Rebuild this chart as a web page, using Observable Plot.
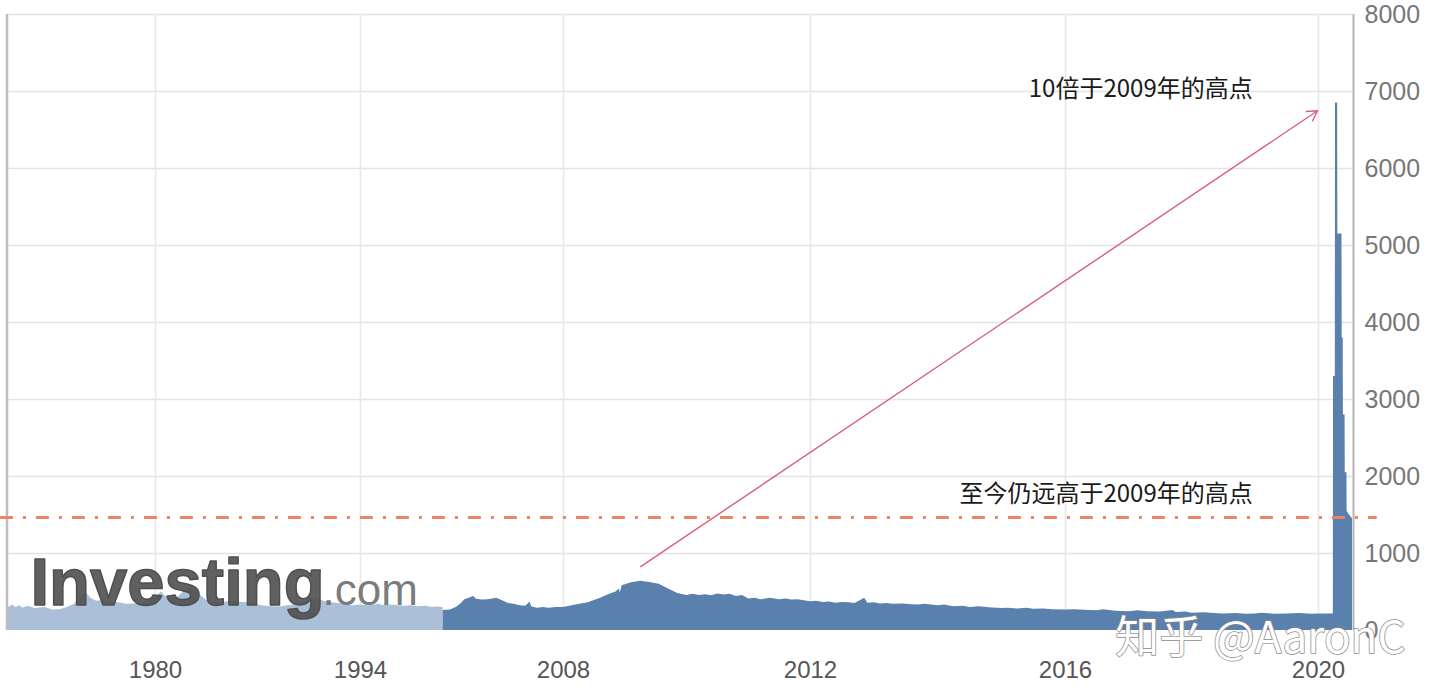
<!DOCTYPE html>
<html><head><meta charset="utf-8">
<script src="https://cdn.jsdelivr.net/npm/d3@7"></script>
<script src="https://cdn.jsdelivr.net/npm/@observablehq/plot@0.6"></script>
<style>html,body{margin:0;padding:0;background:#fff;overflow:hidden}</style>
</head><body><div id="chart"></div>
<script>
// Weekly initial jobless claims (thousands)
const lightYears = [1970.0,1970.3,1970.5,1970.8,1971.0,1971.3,1971.5,1971.8,1972.0,1972.5,1973.0,1973.5,1974.0,1974.5,1975.0,1975.3,1975.6,1976.0,1976.5,1977.0,1977.5,1978.0,1978.5,1979.0,1979.5,1980.0,1980.4,1980.8,1981.2,1981.6,1982.0,1982.5,1983.0,1983.5,1984.0,1984.5,1985.0,1985.5,1986.0,1986.5,1987.0,1987.5,1988.0,1988.5,1989.0,1989.5,1990.0,1990.5,1991.0,1991.5,1992.0,1992.5,1993.0,1993.5,1994.0,1994.5,1995.0,1995.3,1995.5,1996.0,1996.5,1997.0,1997.5,1998.0,1998.5,1999.0,1999.3,1999.7];
const lightValues = [300,330,300,320,290,315,305,285,290,300,265,270,300,340,450,490,420,380,390,370,360,340,345,350,370,430,500,420,420,440,520,560,470,390,360,355,380,370,365,360,330,315,310,305,320,330,360,380,420,380,360,350,330,320,330,320,330,345,325,330,325,315,320,310,315,300,310,295];
const darkYears = [1999.7,2000.2,2000.6,2000.9,2001.2,2001.5,2001.8,2002.0,2002.4,2002.8,2003.1,2003.4,2003.8,2004.2,2004.6,2005.0,2005.4,2005.7,2005.8,2006.2,2006.6,2007.0,2007.5,2008.0,2008.2,2008.4,2008.6,2008.75,2008.85,2008.9,2008.92,2008.95,2009.1,2009.25,2009.4,2009.55,2009.7,2009.85,2010.0,2010.1,2010.2,2010.3,2010.4,2010.5,2010.6,2010.7,2010.8,2010.9,2011.0,2011.1,2011.2,2011.35,2011.5,2011.6,2011.7,2011.8,2011.9,2012.0,2012.1,2012.2,2012.3,2012.4,2012.5,2012.6,2012.7,2012.85,2012.9,2013.0,2013.1,2013.2,2013.3,2013.45,2013.6,2013.7,2013.8,2014.0,2014.1,2014.25,2014.4,2014.5,2014.65,2014.8,2015.0,2015.1,2015.25,2015.4,2015.5,2015.65,2015.8,2016.0,2016.15,2016.3,2016.5,2016.6,2016.8,2017.0,2017.15,2017.3,2017.5,2017.7,2017.75,2017.9,2018.0,2018.2,2018.35,2018.5,2018.7,2018.85,2019.0,2019.1,2019.3,2019.5,2019.7,2019.9,2020.0,2020.24,2020.243,2020.272,2020.275,2020.31,2020.313,2020.38,2020.383,2020.40,2020.403,2020.43,2020.433,2020.46,2020.463,2020.5,2020.55];
const darkValues = [260,265,300,340,400,420,440,405,395,400,410,420,385,350,340,320,315,370,310,290,300,290,300,300,330,360,420,470,500,540,490,580,620,640,625,600,540,480,455,470,455,465,450,475,460,470,440,455,410,420,400,420,400,410,395,400,385,375,380,365,370,355,365,360,350,420,355,360,345,350,340,345,335,330,340,320,330,310,315,300,310,295,285,290,280,290,275,280,270,265,270,262,255,268,250,245,255,242,240,260,235,240,225,230,220,215,222,212,215,225,212,215,220,210,215,215,3300,3300,6850,6850,5150,5150,3800,3800,2800,2800,2050,2050,1550,1500,1450];

const xTicks = [1980, 1994, 2008, 2012, 2016, 2020];
const yTicks = [0, 1000, 2000, 3000, 4000, 5000, 6000, 7000, 8000];
const xBreaks = [1970, 1980, 1994, 2008, 2012, 2016, 2020, 2020.55];

// annotations
const refLevel = 1467;               // dash-dot reference level
const refSpan = [1969.45, 2020.95];  // years spanned by the reference line
const arrowFrom = [2009.25, 830];
const arrowTo = [2019.985, 6750];
const noteTexts = ["10倍于2009年的高点", "至今仍远高于2009年的高点"];
const noteYears = [2018.96, 2018.96];
const noteValues = [7030, 1766];

const light = lightYears.map((x, i) => ({x, y: lightValues[i]}));
const dark = darkYears.map((x, i) => ({x, y: darkValues[i]}));
const notes = noteTexts.map((t, i) => ({t, x: noteYears[i], y: noteValues[i]}));

const chart = Plot.plot({
  width: 1440,
  height: 698,
  marginLeft: 8,
  marginRight: 88,
  marginTop: 14,
  marginBottom: 68,
  style: {fontFamily: "'Liberation Sans', Arial, sans-serif", background: "#fff"},
  x: {type: "linear", domain: xBreaks, range: [8, 155, 360, 563, 810, 1065, 1318, 1352]},
  y: {domain: [0, 8000]},
  marks: [
    Plot.gridY(yTicks.slice(1), {stroke: "#e4e4e4", strokeOpacity: 1, strokeWidth: 1.6}),
    Plot.gridX(xTicks, {stroke: "#e8e8e8", strokeOpacity: 1, strokeWidth: 1.6}),
    Plot.areaY(light, {x: "x", y: "y", fill: "#abbfd8"}),
    Plot.areaY(dark, {x: "x", y: "y", fill: "#5a80ad"}),
    Plot.ruleX([xBreaks[0]], {stroke: "#bdbdbd", strokeWidth: 2.5, dx: -1.5}),
    Plot.ruleX([xBreaks[xBreaks.length - 1]], {stroke: "#b5b5b5", strokeWidth: 2, dx: 1}),
    Plot.axisY(yTicks, {anchor: "right", tickSize: 0, tickPadding: 12, fontSize: 25, fill: "#777", label: null, tickFormat: d => String(d)}),
    Plot.axisX(xTicks, {anchor: "bottom", tickSize: 0, tickPadding: 30, fontSize: 24, fill: "#555", label: null, tickFormat: d => String(d)}),
    // Investing.com watermark
    Plot.text(["Investing"], {frameAnchor: "bottom-left", dx: 22, dy: -26, lineAnchor: "bottom", textAnchor: "start", fontSize: 67, fontWeight: "bold", fill: "#4f4f4f", stroke: "#4f4f4f", strokeWidth: 1.5, fillOpacity: 0.9, fontFamily: "'Liberation Sans', Arial, sans-serif", letterSpacing: "-1.5px"}),
    Plot.text([".com"], {frameAnchor: "bottom-left", dx: 314, dy: -26, lineAnchor: "bottom", textAnchor: "start", fontSize: 44, fill: "#6a6a6a", fillOpacity: 0.9, fontFamily: "'Liberation Sans', Arial, sans-serif"}),
    // reference line
    Plot.ruleY([{y: refLevel, x1: refSpan[0], x2: refSpan[1]}], {y: "y", x1: "x1", x2: "x2", stroke: "#ea8464", strokeWidth: 3, strokeDasharray: "13,10,3,10"}),
    Plot.arrow([{x1: arrowFrom[0], y1: arrowFrom[1], x2: arrowTo[0], y2: arrowTo[1]}], {x1: "x1", y1: "y1", x2: "x2", y2: "y2", stroke: "#d9607a", strokeWidth: 1.4, headLength: 12, bend: false}),
    Plot.text(notes, {x: "x", y: "y", text: "t", textAnchor: "end", fontSize: 24, fill: "#1a1a1a", fontFamily: "'Noto Sans CJK SC', sans-serif"}),
    // 知乎 watermark
    Plot.text(["知乎 @AaronC"], {frameAnchor: "bottom-right", dx: 53, dy: 8, textAnchor: "end", lineAnchor: "middle", fontSize: 44, fill: "#fff", stroke: "#8a8a8a", strokeWidth: 1.5, fontFamily: "'Noto Sans CJK SC', sans-serif"})
  ]
});
document.getElementById("chart").appendChild(chart);
</script>
</body></html>
